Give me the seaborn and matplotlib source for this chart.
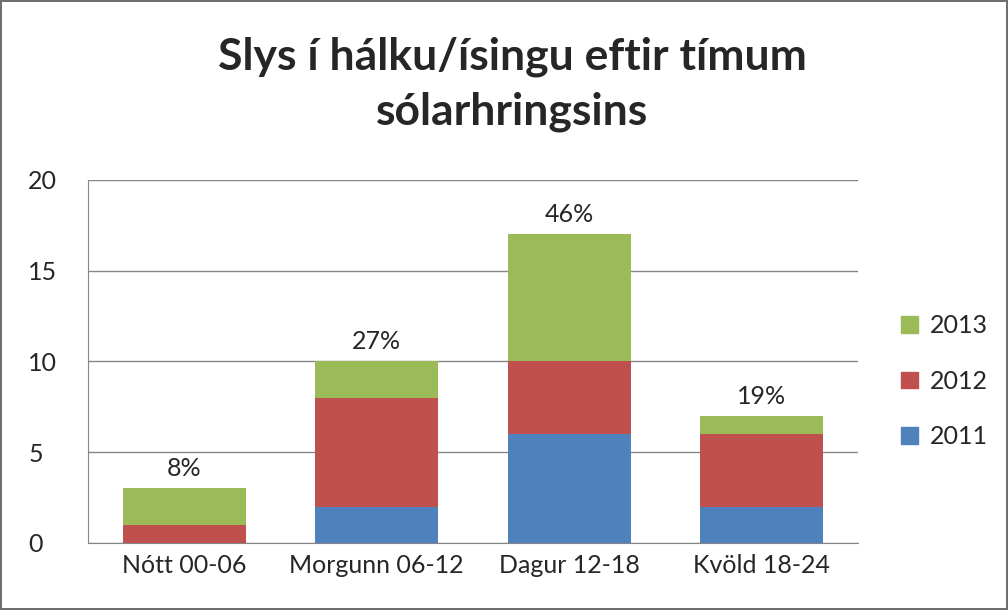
import numpy as np
import pandas as pd
import seaborn as sns
import matplotlib.pyplot as plt
from matplotlib.patches import Patch

categories = ["Nótt 00-06", "Morgunn 06-12", "Dagur 12-18", "Kvöld 18-24"]
y2011 = [0, 2, 6, 2]
y2012 = [1, 6, 4, 4]
y2013 = [2, 2, 7, 1]
pct_labels = ["8%", "27%", "46%", "19%"]

colors = {"2011": "#4F81BD", "2012": "#C0504D", "2013": "#9BBB59"}

sns.set_style("white")
plt.rcParams['font.family'] = ['Lato', 'DejaVu Sans']

fig = plt.figure(figsize=(10.08, 6.10), dpi=100, edgecolor="#6f6f6f", linewidth=1.5)
ax = fig.add_axes([0.0873, 0.11, 0.7637, 0.595])

df = pd.DataFrame({"cat": categories, "2011": y2011, "2012": y2012, "2013": y2013})
b1 = np.array(y2011)
b2 = b1 + np.array(y2012)

kw = dict(width=0.64, saturation=1, ax=ax, zorder=3, linewidth=0)
sns.barplot(data=df, x="cat", y="2011", color=colors["2011"], **kw)
sns.barplot(data=df, x="cat", y="2012", color=colors["2012"], bottom=b1, **kw)
sns.barplot(data=df, x="cat", y="2013", color=colors["2013"], bottom=b2, **kw)

totals = b2 + np.array(y2013)
for i, (t, lab) in enumerate(zip(totals, pct_labels)):
    ax.text(i, t + 0.45, lab, ha="center", va="bottom", fontsize=18)

ax.set_ylim(0, 20)
ax.set_xlim(-0.5, 3.5)
ax.set_yticks([0, 5, 10, 15, 20])
ax.yaxis.grid(True, color="#868686", linewidth=1, zorder=0)
ax.set_axisbelow(True)
ax.set_xlabel("")
ax.set_ylabel("")
ax.tick_params(axis="both", labelsize=18, length=0)
ax.tick_params(axis="y", pad=43)
ax.tick_params(axis="x", pad=8)
for lab in ax.get_yticklabels():
    lab.set_horizontalalignment("left")
for s in ["top", "right"]:
    ax.spines[s].set_visible(False)
ax.spines["left"].set_color("#868686")
ax.spines["bottom"].set_color("#868686")

handles = [Patch(color=colors[k], label=k) for k in ["2013", "2012", "2011"]]
fig.legend(handles=handles, loc="center left", bbox_to_anchor=(0.872, 0.375),
           frameon=False, fontsize=18, handlelength=0.65, handleheight=0.65,
           labelspacing=1.3, handletextpad=0.5)

fig.suptitle("Slys í hálku/ísingu eftir tímum\nsólarhringsins", fontsize=32,
             fontweight="bold", x=0.508, y=0.94, linespacing=1.45)

plt.savefig("out.png", dpi=100)
